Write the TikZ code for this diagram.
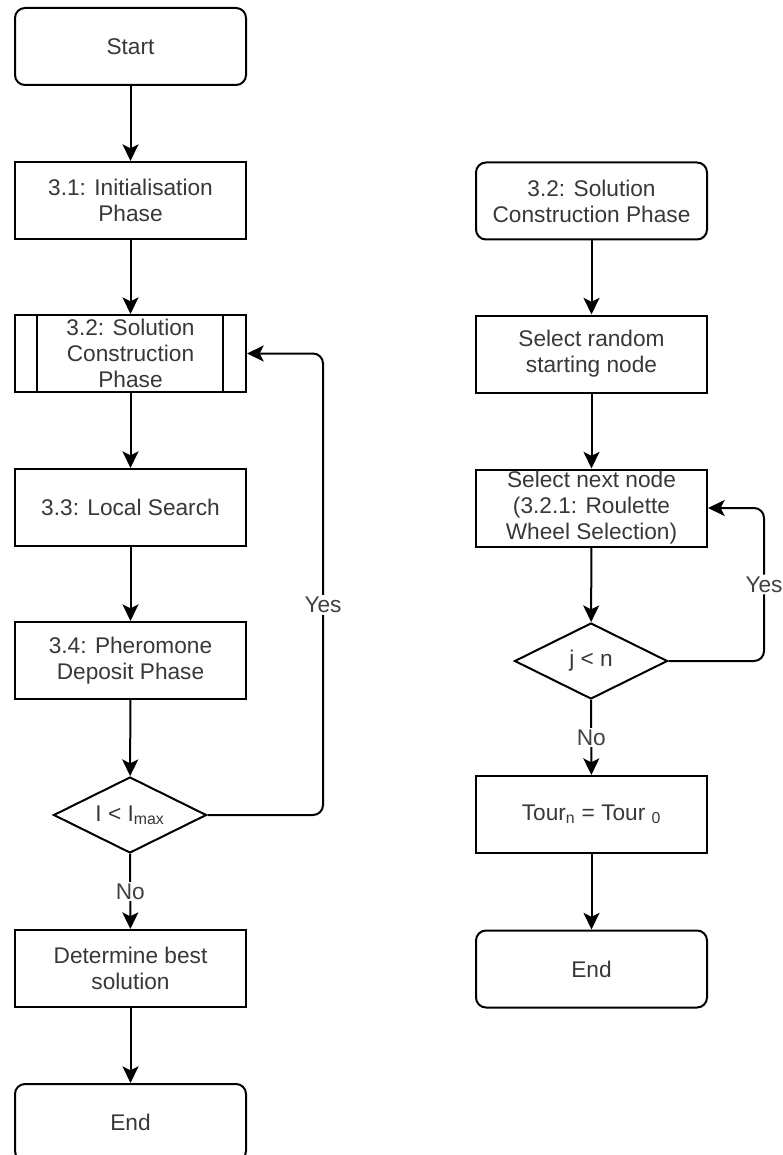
\documentclass[tikz,border=0pt]{standalone}
\usepackage{fontspec}
\setmainfont{Liberation Sans}
\usetikzlibrary{arrows.meta,shapes.geometric,calc}

\tikzset{
  base/.style={draw=black, line width=1.5pt, fill=white, text=black!78,
    font=\fontsize{17pt}{19.5pt}\selectfont, align=center, inner sep=0pt},
  procbox/.style={base, rectangle, minimum width=173.25pt, minimum height=57.75pt},
  termbox/.style={procbox, rounded corners=7.5pt},
  decbox/.style={base, diamond, minimum width=114.75pt, minimum height=57pt, aspect=2},
  arr/.style={draw=black, line width=1.5pt, -{Stealth[length=12.5pt,width=12pt,inset=3pt]}},
  lbl/.style={fill=white, text=black!75, font=\fontsize{17pt}{19.5pt}\selectfont, inner sep=1.5pt}
}

\begin{document}
\begin{tikzpicture}[x=0.75pt,y=-0.75pt]
  \useasboundingbox (0,0) rectangle (782,1155);
  \clip (0,0) rectangle (782,1155);

  % main algorithm
  \node[termbox] (start) at (130.5,46.5)  {Start};
  \node[procbox] (init)  at (130.5,200.5) {3.1: Initialisation\\Phase};
  \node[procbox] (sol)   at (130.5,353.5) {3.2: Solution\\Construction\\Phase};
  \draw[line width=1.5pt] ($(sol.north west)+(23,0)$) -- ($(sol.south west)+(23,0)$);
  \draw[line width=1.5pt] ($(sol.north east)+(-24,0)$) -- ($(sol.south east)+(-24,0)$);
  \node[procbox] (ls)    at (130.5,507.5) {3.3: Local Search};
  \node[procbox] (pher)  at (130.5,660.5) {3.4: Pheromone\\Deposit Phase};
  \node[decbox]  (itdec) at (130,815)     {I < I\textsubscript{max}};
  \node[procbox] (best)  at (130.5,968.5) {Determine best\\solution};
  \node[termbox] (endL)  at (130.5,1122.5) {End};

  \draw[arr] (start) -- (init);
  \draw[arr] (init) -- (sol);
  \draw[arr] (sol) -- (ls);
  \draw[arr] (ls) -- (pher);
  \draw[arr] (pher) -- (itdec);
  \draw[arr] (itdec) -- node[lbl] {No} (best);
  \draw[arr] (best) -- (endL);
  \coordinate (loopL) at (323,815);
  \draw[arr, rounded corners=7.5pt] (itdec.east) -- (loopL)
     -- node[lbl, pos=0.455] {Yes} (loopL |- sol.east) -- (sol.east);

  % solution construction sub-process
  \node[termbox] (sub)   at (591.5,201)  {3.2: Solution\\Construction Phase};
  \node[procbox] (rand)  at (591.5,354)  {Select random\\starting node};
  \node[procbox] (next)  at (591.5,508)  {Select next node\\(3.2.1: Roulette\\Wheel Selection)};
  \node[decbox]  (jdec)  at (591,661)    {j < n};
  \node[procbox] (tour)  at (591.5,814.5) {Tour\textsubscript{n} = Tour \textsubscript{0}};
  \node[termbox] (endR)  at (591.5,969)  {End};

  \draw[arr] (sub) -- (rand);
  \draw[arr] (rand) -- (next);
  \draw[arr] (next) -- (jdec);
  \draw[arr] (jdec) -- node[lbl] {No} (tour);
  \draw[arr] (tour) -- (endR);
  \coordinate (loopR) at (764,661);
  \draw[arr, rounded corners=7.5pt] (jdec.east) -- (loopR)
     -- node[lbl] {Yes} (loopR |- next.east) -- (next.east);
\end{tikzpicture}
\end{document}
